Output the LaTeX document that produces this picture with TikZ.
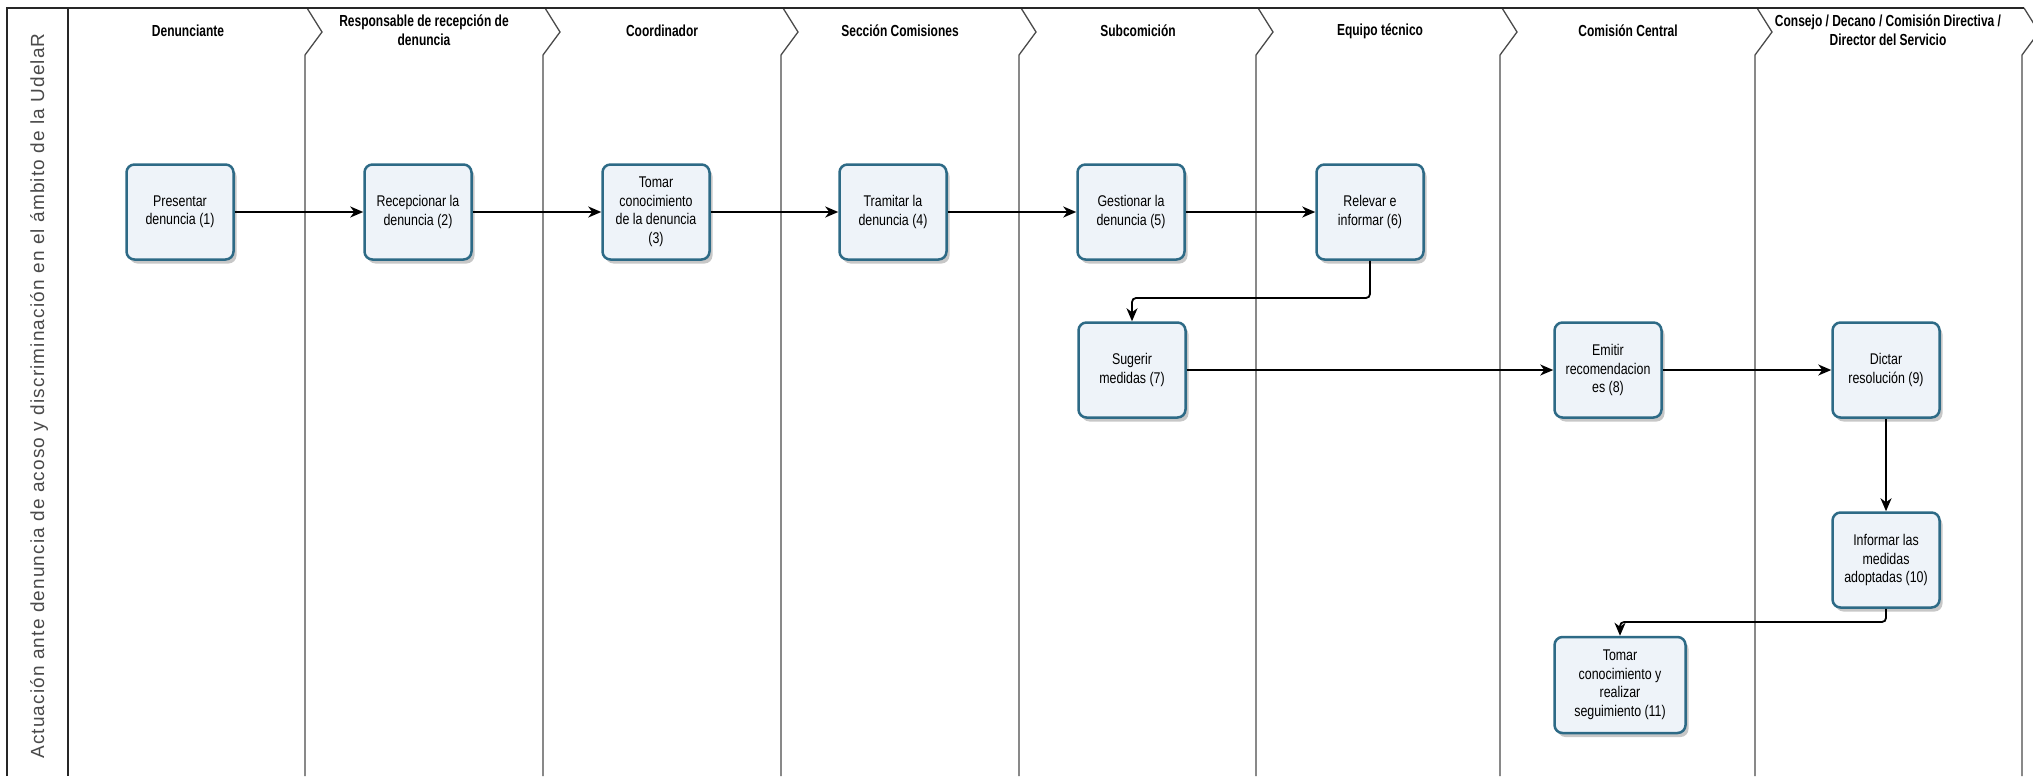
\documentclass[tikz,border=0pt]{standalone}
\usepackage{fontspec}
\setmainfont{Liberation Sans}
\newfontfamily\boxfont[FakeStretch=0.8]{Liberation Sans}
\newfontfamily\headfont[FakeStretch=0.75]{Liberation Sans}
\newfontfamily\titlefont[LetterSpace=6]{Liberation Sans}
\usetikzlibrary{arrows.meta,shadows}
\definecolor{boxborder}{HTML}{2D6A86}
\definecolor{boxfill}{HTML}{EEF3F9}
\definecolor{laneline}{HTML}{4A4A4A}
\definecolor{titlegray}{HTML}{4A4A4A}
\begin{document}
\begin{tikzpicture}[x=1pt,y=-1pt,
  frameline/.style={draw=black!85, line width=2pt},
  laneline/.style={draw=laneline, line width=1.3pt},
  head/.style={align=center, font=\headfont\bfseries\fontsize{16}{19}\selectfont, inner sep=0pt},
  proc/.style={draw=boxborder, line width=2.5pt, fill=boxfill, rounded corners=8pt,
    minimum width=107pt, minimum height=95pt, align=center, inner sep=2pt,
    font=\boxfont\fontsize{15.5}{18.5}\selectfont,
    drop shadow={shadow xshift=3pt, shadow yshift=-4pt, opacity=0.22, fill=black}},
  flow/.style={draw=black, line width=1.8pt, rounded corners=4pt,
    -{Stealth[length=13pt,width=11pt,inset=4pt]}}
]
\useasboundingbox (0,0) rectangle (2033,776);
\fill[white] (0,0) rectangle (2033,776);
\begin{scope}
\clip (0,0) rectangle (2033,776);
\foreach \s in {305,543,781,1019,1256,1500,1755,2022}
  \draw[laneline] (\s+2,8) -- (\s+17,32) -- (\s,55) -- (\s,776);
\end{scope}
\draw[frameline] (7,776) -- (7,8) -- (2024,8);
\draw[frameline] (68,8) -- (68,776);

\node[rotate=90, font=\titlefont\fontsize{19}{22}\selectfont, text=titlegray, inner sep=0pt] (title) at (39,396)
  {Actuación ante denuncia de acoso y discriminación en el ámbito de la UdelaR};

\node[head] (h1) at (188,31) {Denunciante};
\node[head] (h2) at (424,30) {Responsable de recepción de\\denuncia};
\node[head] (h3) at (662,31) {Coordinador};
\node[head] (h4) at (900,31) {Sección Comisiones};
\node[head] (h5) at (1138,31) {Subcomición};
\node[head] (h6) at (1380,31) {Equipo técnico};
\node[head] (h7) at (1628,31) {Comisión Central};
\node[head] (h8) at (1888,30) {Consejo / Decano / Comisión Directiva /\\Director del Servicio};

\node[proc] (b1) at (180,212) {Presentar\\denuncia (1)};
\node[proc] (b2) at (418,212) {Recepcionar la\\denuncia (2)};
\node[proc] (b3) at (656,212) {Tomar\\conocimiento\\de la denuncia\\(3)};
\node[proc] (b4) at (893,212) {Tramitar la\\denuncia (4)};
\node[proc] (b5) at (1131,212) {Gestionar la\\denuncia (5)};
\node[proc] (b6) at (1370,212) {Relevar e\\informar (6)};
\node[proc] (b7) at (1132,370) {Sugerir\\medidas (7)};
\node[proc] (b8) at (1608,370) {Emitir\\recomendacion\\es (8)};
\node[proc] (b9) at (1886,370) {Dictar\\resolución (9)};
\node[proc] (b10) at (1886,560) {Informar las\\medidas\\adoptadas (10)};
\node[proc, minimum width=131pt, minimum height=96pt] (b11) at (1620,685) {Tomar\\conocimiento y\\realizar\\seguimiento (11)};

\draw[flow] (b1.east) -- (b2.west);
\draw[flow] (b2.east) -- (b3.west);
\draw[flow] (b3.east) -- (b4.west);
\draw[flow] (b4.east) -- (b5.west);
\draw[flow] (b5.east) -- (b6.west);
\draw[flow] (b6.south) -- (b6.south |- 0,298) -- (b7.north |- 0,298) -- (b7.north);
\draw[flow] (b7.east) -- (b8.west);
\draw[flow] (b8.east) -- (b9.west);
\draw[flow] (b9.south) -- (b10.north);
\draw[flow] (b10.south) -- (b10.south |- 0,622) -- (b11.north |- 0,622) -- (b11.north);
\end{tikzpicture}
\end{document}
